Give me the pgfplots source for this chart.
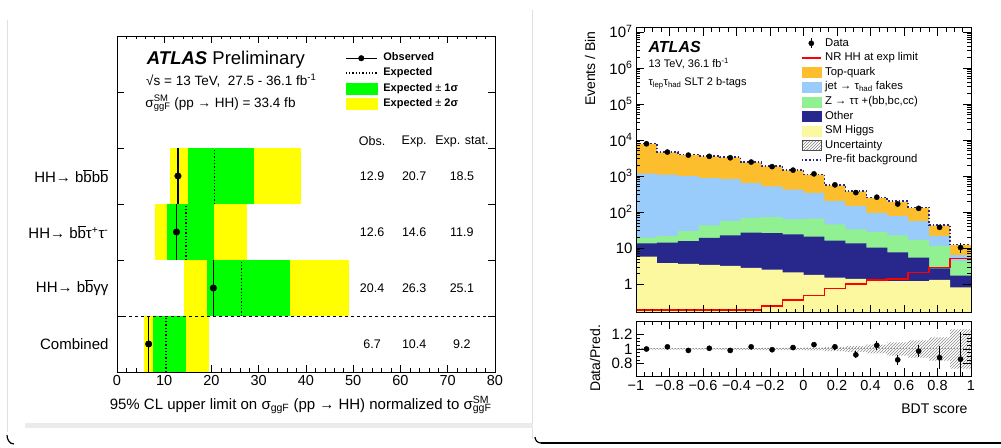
\documentclass[border=0pt]{standalone}
\usepackage{pgfplots}
\pgfplotsset{compat=1.18}
\usepackage{pgfplotstable}
\usepackage{fontspec}
\setmainfont{Liberation Sans}
\usetikzlibrary{patterns}

\definecolor{topq}{RGB}{252,190,45}
\definecolor{jetf}{RGB}{153,204,250}
\definecolor{ztt}{RGB}{145,240,145}
\definecolor{oth}{RGB}{40,40,140}
\definecolor{smh}{RGB}{252,248,160}
\definecolor{gr1}{RGB}{0,255,0}
\definecolor{ye2}{RGB}{255,255,0}

\newcommand{\bb}{$\overline{\mbox{b}}$}
\newcommand{\fs}[1]{\fontsize{#1}{#1}\selectfont}

% cumulative stack boundaries, bin left edges (last row repeats the last bin at x=1)
\pgfplotstableread{
x      hig   oth   zt    jet    tot    pre    nr
-1.000 5.8   13.5  19.4  1150   7800   7900   0.19
-0.875 3.8   14    21.5  1080   4470   4550   0.19
-0.750 3.6   15.6  29.5  980    3860   3920   0.19
-0.625 3.4   19    42.5  870    3470   3520   0.19
-0.500 3.2   22.5  56    820    3250   3300   0.19
-0.375 2.8   26.7  69    635    2360   2400   0.19
-0.250 2.5   26    72    515    1830   1860   0.25
-0.125 2.1   24    62    415    1420   1440   0.36
0.000  1.8   20.6  65    336    1080   1100   0.48
0.125  1.5   16    45    200    550    560    0.76
0.250  1.4   13.5  33    145    375    382    1.0
0.375  1.3   10.2  28    95     245    250    1.29
0.500  1.2   7.5   22.5  77     195    199    1.37
0.625  1.2   5.4   16.7  56     130    133    2.1
0.750  1.3   2.7   11.4  21.6   42.5   43.5   2.9
0.875  0.81  1.7   4.4   6.3    12     12.4   5.1
1.000  0.81  1.7   4.4   6.3    12     12.4   5.1
}\stack

\pgfplotstableread{
x       d     ed    r     er
-0.9375 7800  88    1.00  0.012
-0.8125 4600  68    1.03  0.015
-0.6875 3780  61    0.98  0.016
-0.5625 3500  59    1.01  0.017
-0.4375 3190  56    0.98  0.018
-0.3125 2430  49    1.03  0.020
-0.1875 1810  43    0.99  0.024
-0.0625 1450  38    1.02  0.027
0.0625  1140  34    1.06  0.030
0.1875  565   24    1.03  0.043
0.3125  345   19    0.92  0.050
0.4375  257   16    1.05  0.065
0.5625  166   13    0.85  0.065
0.6875  126   11    0.97  0.080
0.8125  37.4  6.1   0.88  0.160
0.9375  10.3  3.2   0.86  0.370
}\data

\pgfplotsset{
  boxleg/.style={legend image code/.code={\fill[#1] (0pt,-5pt) rectangle (19pt,5pt);}},
}

\begin{document}
\begin{tikzpicture}
\useasboundingbox (0,0) rectangle (1001pt,447pt);
% screenshot card edges
\draw[black!12, line width=1pt] (7pt,427pt) -- (7pt,15pt);
\draw[black!12, line width=1pt] (532pt,437pt) -- (532pt,8pt);
\fill[black!8] (25pt,19pt) rectangle (533pt,24pt);
\draw[black, line width=1.5pt] (541pt,4pt) -- (1001pt,4pt);
\draw[black, line width=1.2pt] (535pt,10pt) to[out=-90,in=180] (541pt,4pt);
\draw[black, line width=1.2pt] (7pt,12pt) to[out=-90,in=180] (14pt,3pt);

%================ LEFT: limits =================
\begin{axis}[
  at={(117pt,75pt)}, anchor=south west, scale only axis,
  width=378pt, height=336pt,
  xmin=0, xmax=80, ymin=0, ymax=6,
  xtick={0,10,...,80}, minor x tick num=4,
  ytick={1,2,3,4,5}, yticklabels={},
  major tick length=7pt, minor tick length=3.5pt,
  axis line style={line width=0.8pt},
  tick style={line width=0.6pt, black},
  /pgf/number format/assume math mode=true,
  xticklabel style={font=\fs{14.5}},
  xlabel={95\% CL upper limit on σ\textsubscript{ggF} (pp → HH) normalized to σ\rlap{\textsuperscript{SM}}\textsubscript{ggF}},
  xlabel style={font=\fs{15}, at={(axis description cs:1,0)}, anchor=base east, yshift=-37pt},
  clip=false,
  legend cell align=left,
  legend style={at={(axis description cs:0.595,0.956)}, anchor=north west,
    draw=none, fill=none, font=\bfseries\fs{11}, row sep=4.3pt,
    nodes={inner sep=0pt, text height=8pt, text depth=2.5pt},
    /tikz/every odd column/.append style={column sep=6pt}},
]
% +-2 sigma
\addplot[fill=ye2, draw=none, forget plot] coordinates {(11.2,3) (38.9,3) (38.9,4) (11.2,4)} -- cycle;
\addplot[fill=ye2, draw=none, forget plot] coordinates {(8.0,2) (27.5,2) (27.5,3) (8.0,3)} -- cycle;
\addplot[fill=ye2, draw=none, forget plot] coordinates {(14.2,1) (49.2,1) (49.2,2) (14.2,2)} -- cycle;
\addplot[fill=ye2, draw=none, forget plot] coordinates {(5.7,0) (19.5,0) (19.5,1) (5.7,1)} -- cycle;
% +-1 sigma
\addplot[fill=gr1, draw=none, forget plot] coordinates {(15.1,3) (29.0,3) (29.0,4) (15.1,4)} -- cycle;
\addplot[fill=gr1, draw=none, forget plot] coordinates {(10.6,2) (20.5,2) (20.5,3) (10.6,3)} -- cycle;
\addplot[fill=gr1, draw=none, forget plot] coordinates {(19.1,1) (36.7,1) (36.7,2) (19.1,2)} -- cycle;
\addplot[fill=gr1, draw=none, forget plot] coordinates {(7.6,0) (14.6,0) (14.6,1) (7.6,1)} -- cycle;
% separator
\addplot[black, dashed, line width=0.8pt, forget plot] coordinates {(0,1) (80,1)};
% expected
\addplot[black, dotted, line width=1.3pt, forget plot] coordinates {(20.7,3) (20.7,4)};
\addplot[black, dotted, line width=1.3pt, forget plot] coordinates {(14.6,2) (14.6,3)};
\addplot[black, dotted, line width=1.3pt, forget plot] coordinates {(26.3,1) (26.3,2)};
\addplot[black, dotted, line width=1.3pt, forget plot] coordinates {(10.4,0) (10.4,1)};
% observed
\addplot[black, line width=1.4pt, forget plot] coordinates {(12.9,3) (12.9,4)};
\addplot[black, line width=1.4pt, forget plot] coordinates {(12.6,2) (12.6,3)};
\addplot[black, line width=1.4pt, forget plot] coordinates {(20.4,1) (20.4,2)};
\addplot[black, line width=1.4pt, forget plot] coordinates {(6.7,0) (6.7,1)};
\addplot[only marks, mark=*, mark size=3.3pt, black, forget plot] coordinates {(12.9,3.5) (12.6,2.5) (20.4,1.5) (6.7,0.5)};

\addlegendimage{legend image code/.code={\draw[line width=1.3pt] (0pt,0pt)--(31pt,0pt); \fill (15.5pt,0pt) circle (2.8pt);}}
\addlegendentry{Observed}
\addlegendimage{legend image code/.code={\draw[dotted, line width=1.3pt] (0pt,0pt)--(31pt,0pt);}}
\addlegendentry{Expected}
\addlegendimage{legend image code/.code={\fill[gr1] (0pt,-5.5pt) rectangle (31pt,5.5pt);}}
\addlegendentry{Expected {\mdseries ±} 1σ}
\addlegendimage{legend image code/.code={\fill[ye2] (0pt,-5.5pt) rectangle (31pt,5.5pt);}}
\addlegendentry{Expected {\mdseries ±} 2σ}

\node[anchor=west, font=\fs{18.5}] at (axis description cs:0.070,0.928) {\textbf{\textit{ATLAS}} Preliminary};
\node[anchor=west, font=\fs{13.5}] at (axis description cs:0.068,0.868) {√s = 13 TeV,\ \ 27.5 - 36.1 fb\textsuperscript{-1}};
\node[anchor=west, font=\fs{13.5}] at (axis description cs:0.066,0.800) {σ\rlap{\textsuperscript{SM}}\textsubscript{ggF} (pp → HH) = 33.4 fb};

\node[anchor=east, font=\fs{15}] at (axis cs:0,3.5) [xshift=-5pt] {HH→ b\bb b\bb};
\node[anchor=east, font=\fs{15}] at (axis cs:0,2.5) [xshift=-5pt] {HH→ b\bb τ\textsuperscript{+}τ\textsuperscript{-}};
\node[anchor=east, font=\fs{15}] at (axis cs:0,1.5) [xshift=-5pt] {HH→ b\bb γγ};
\node[anchor=east, font=\fs{15}] at (axis cs:0,0.5) [xshift=-5pt] {Combined};

\node[font=\fs{12.5}] at (axis cs:54.0,4.125) {Obs.};
\node[font=\fs{12.5}] at (axis cs:62.9,4.125) {Exp.};
\node[font=\fs{12.5}] at (axis cs:73.0,4.125) {Exp. stat.};
\node[font=\fs{12.5}] at (axis cs:54.0,3.5) {12.9};
\node[font=\fs{12.5}] at (axis cs:62.9,3.5) {20.7};
\node[font=\fs{12.5}] at (axis cs:73.0,3.5) {18.5};
\node[font=\fs{12.5}] at (axis cs:54.0,2.5) {12.6};
\node[font=\fs{12.5}] at (axis cs:62.9,2.5) {14.6};
\node[font=\fs{12.5}] at (axis cs:73.0,2.5) {11.9};
\node[font=\fs{12.5}] at (axis cs:54.0,1.5) {20.4};
\node[font=\fs{12.5}] at (axis cs:62.9,1.5) {26.3};
\node[font=\fs{12.5}] at (axis cs:73.0,1.5) {25.1};
\node[font=\fs{12.5}] at (axis cs:54.0,0.5) {6.7};
\node[font=\fs{12.5}] at (axis cs:62.9,0.5) {10.4};
\node[font=\fs{12.5}] at (axis cs:73.0,0.5) {9.2};
\end{axis}

%================ RIGHT: BDT distribution =================
\begin{axis}[
  at={(636pt,134.3pt)}, anchor=south west, scale only axis,
  width=335pt, height=285pt,
  ymode=log, log origin y=infty, xmin=-1, xmax=1, ymin=0.16, ymax=1.3e7,
  xtick={-1,-0.8,...,1.01}, xticklabels={}, minor x tick num=3,
  ytick={1,10,100,1000,10000,100000,1000000,10000000},
  yticklabels={1,10,10\textsuperscript{2},10\textsuperscript{3},10\textsuperscript{4},10\textsuperscript{5},10\textsuperscript{6},10\textsuperscript{7}},
  yticklabel style={font=\fs{15}},
  major tick length=8pt, minor tick length=4pt,
  axis line style={line width=0.8pt},
  tick style={line width=0.6pt, black},
  axis on top,
  ylabel={Events / Bin},
  ylabel style={font=\fs{14}, at={(axis description cs:-0.137,1)}, anchor=east},
  legend cell align=left,
  legend style={at={(axis description cs:0.483,0.972)}, anchor=north west,
    draw=none, fill=none, font=\fs{11.3}, row sep=4.1pt,
    nodes={inner sep=0pt, text height=8pt, text depth=2.5pt},
    /tikz/every odd column/.append style={column sep=3.5pt}},
]
\addplot[const plot, fill=topq, draw=none, forget plot] table[x=x,y=tot]{\stack} \closedcycle;
\addplot[const plot, fill=jetf, draw=none, forget plot] table[x=x,y=jet]{\stack} \closedcycle;
\addplot[const plot, fill=ztt, draw=none, forget plot] table[x=x,y=zt]{\stack} \closedcycle;
\addplot[const plot, fill=oth, draw=none, forget plot] table[x=x,y=oth]{\stack} \closedcycle;
\addplot[const plot, fill=smh, draw=none, forget plot] table[x=x,y=hig]{\stack} \closedcycle;
\addplot[const plot, red, line width=1.6pt, forget plot] table[x=x,y=nr]{\stack};
\addplot[const plot, oth, dotted, line width=1.6pt, forget plot] table[x=x,y=pre]{\stack};
\addplot[only marks, mark=*, mark size=2.6pt, black, forget plot,
  error bars/.cd, y dir=both, y explicit, error bar style={line width=0.8pt}, error mark=none]
  table[x=x,y=d,y error=ed]{\data};

\addlegendimage{legend image code/.code={\draw[line width=0.8pt] (9.5pt,-5pt)--(9.5pt,5pt); \fill (9.5pt,0pt) circle (2.6pt);}}
\addlegendentry{Data}
\addlegendimage{legend image code/.code={\draw[red, line width=1.6pt] (0pt,0pt)--(19pt,0pt);}}
\addlegendentry{NR HH at exp limit}
\addlegendimage{boxleg=topq}
\addlegendentry{Top-quark}
\addlegendimage{boxleg=jetf}
\addlegendentry{jet → τ\textsubscript{had} fakes}
\addlegendimage{boxleg=ztt}
\addlegendentry{Z → ττ +(bb,bc,cc)}
\addlegendimage{boxleg=oth}
\addlegendentry{Other}
\addlegendimage{boxleg=smh}
\addlegendentry{SM Higgs}
\addlegendimage{legend image code/.code={\draw[black!70, pattern=north east lines, pattern color=gray] (0pt,-5pt) rectangle (19pt,5pt);}}
\addlegendentry{Uncertainty}
\addlegendimage{legend image code/.code={\draw[oth, dotted, line width=1.6pt] (0pt,0pt)--(19pt,0pt);}}
\addlegendentry{Pre-fit background}

\node[anchor=west, font=\fs{16}] at (axis description cs:0.027,0.933) {\textbf{\textit{ATLAS}}};
\node[anchor=west, font=\fs{11}] at (axis description cs:0.027,0.875) {13 TeV, 36.1 fb\textsuperscript{-1}};
\node[anchor=west, font=\fs{11}] at (axis description cs:0.027,0.805) {τ\textsubscript{lep}τ\textsubscript{had} SLT 2 b-tags};
\end{axis}

\begin{axis}[
  at={(636pt,70.5pt)}, anchor=south west, scale only axis,
  width=335pt, height=55pt,
  xmin=-1, xmax=1, ymin=0.62, ymax=1.38,
  xtick={-1,-0.8,...,1.01},
  xticklabels={−1,−0.8,−0.6,−0.4,−0.2,0,0.2,0.4,0.6,0.8,1},
  minor x tick num=3,
  ytick={0.8,1,1.2}, yticklabels={0.8,1,1.2}, minor y tick num=3,
  xticklabel style={font=\fs{14.5}}, yticklabel style={font=\fs{15}},
  major tick length=8pt, minor tick length=4pt,
  axis line style={line width=0.8pt},
  tick style={line width=0.6pt, black},
  axis on top,
  xlabel={BDT score},
  xlabel style={font=\fs{14}, at={(axis description cs:1,0)}, anchor=base east, yshift=-36.5pt},
  ylabel={Data/Pred.},
  ylabel style={font=\fs{14}, at={(axis description cs:-0.122,1)}, anchor=east},
]
% uncertainty band (step outline: upper edge left to right, lower edge back)
\addplot[pattern=north east lines, pattern color=black!45, draw=none] coordinates {
(-1,1.01) (-0.5,1.01) (-0.5,1.012) (-0.25,1.012) (-0.25,1.015) (0,1.015) (0,1.02) (0.125,1.02)
(0.125,1.03) (0.25,1.03) (0.25,1.04) (0.375,1.04) (0.375,1.06) (0.5,1.06) (0.5,1.09) (0.625,1.09)
(0.625,1.12) (0.75,1.12) (0.75,1.16) (0.875,1.16) (0.875,1.27) (1,1.27)
(1,0.73) (0.875,0.73) (0.875,0.84) (0.75,0.84) (0.75,0.88) (0.625,0.88) (0.625,0.91) (0.5,0.91)
(0.5,0.94) (0.375,0.94) (0.375,0.96) (0.25,0.96) (0.25,0.97) (0.125,0.97) (0.125,0.98) (0,0.98)
(0,0.985) (-0.25,0.985) (-0.25,0.988) (-0.5,0.988) (-0.5,0.99) (-1,0.99)} -- cycle;
\addplot[black!45, dotted, line width=1pt] coordinates {(-1,1) (1,1)};
\addplot[only marks, mark=*, mark size=2.6pt, black,
  error bars/.cd, y dir=both, y explicit, error bar style={line width=0.9pt}, error mark=none]
  table[x=x,y=r,y error=er]{\data};
\end{axis}
\end{tikzpicture}
\end{document}
